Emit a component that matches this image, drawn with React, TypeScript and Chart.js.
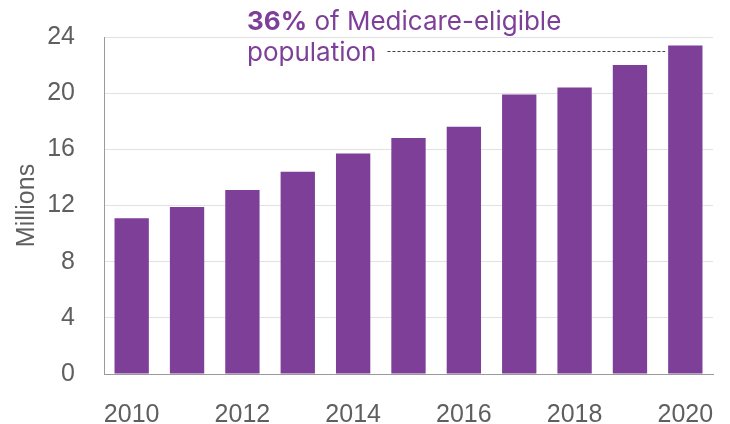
import React, { useEffect, useRef } from "react";
import { Chart, registerables } from "chart.js";

Chart.register(...registerables);

const years = ["2010", "2011", "2012", "2013", "2014", "2015", "2016", "2017", "2018", "2019", "2020"];
const millions = [11.1, 11.9, 13.1, 14.4, 15.7, 16.8, 17.6, 19.9, 20.4, 22.0, 23.4];
const yTicks = [0, 4, 8, 12, 16, 20, 24];
const annotationBold = "36%";
const annotationLine1 = " of Medicare-eligible";
const annotationLine2 = "population";

const PURPLE = "#7D3F98";
const FONT = "'Liberation Sans', Arial, sans-serif";
const AFONT = "Inter, 'Liberation Sans', sans-serif";

const annotationPlugin = {
  id: "annot",
  afterDraw(chart: any) {
    const ctx = chart.ctx;
    const y = chart.scales.y;
    const lastIdx = millions.length - 1;
    const barTop = y.getPixelForValue(millions[lastIdx]);
    const meta = chart.getDatasetMeta(0);
    const bar = meta.data[lastIdx];
    const barLeft = bar.x - bar.width / 2;
    const textX = 247;
    const line1Y = barTop - 15;
    const line2Y = barTop + 16;
    ctx.save();
    ctx.fillStyle = PURPLE;
    ctx.textBaseline = "alphabetic";
    ctx.textAlign = "left";
    ctx.font = `bold 26px ${AFONT}`;
    ctx.fillText(annotationBold, textX, line1Y);
    const bw = ctx.measureText(annotationBold).width;
    ctx.font = `26px ${AFONT}`;
    ctx.fillText(annotationLine1, textX + bw, line1Y);
    ctx.fillText(annotationLine2, textX, line2Y);
    const w2 = ctx.measureText(annotationLine2).width;
    ctx.strokeStyle = "#444";
    ctx.lineWidth = 1;
    ctx.setLineDash([3, 2]);
    ctx.beginPath();
    const ly = Math.round(barTop + 6) + 0.5;
    ctx.moveTo(textX + w2 + 11, ly);
    ctx.lineTo(barLeft - 3, ly);
    ctx.stroke();
    ctx.restore();
  },
};

export default function App() {
  const ref = useRef<HTMLCanvasElement>(null);
  useEffect(() => {
    if (!ref.current) return;
    const chart = new Chart(ref.current, {
      type: "bar",
      data: {
        labels: years,
        datasets: [
          {
            data: millions,
            backgroundColor: PURPLE,
            borderWidth: 0,
            barPercentage: 0.62,
            categoryPercentage: 1,
          },
        ],
      },
      options: {
        animation: false,
        responsive: false,
        maintainAspectRatio: false,
        layout: { padding: { top: 37, right: 17, left: 12, bottom: 0 } },
        plugins: { legend: { display: false }, tooltip: { enabled: false } },
        scales: {
          x: {
            grid: { display: false, drawTicks: false },
            border: { display: true, color: "#9a9a9a", width: 1 },
            afterFit: (s: any) => {
              s.height = 50;
              s.paddingLeft = 0;
              s.paddingRight = 0;
            },
            ticks: {
              autoSkip: false,
              maxRotation: 0,
              padding: 26,
              color: "#5f5f5f",
              font: { family: FONT, size: 25 },
              callback: (_v: any, i: number) => (i % 2 === 0 ? years[i] : ""),
            },
          },
          y: {
            min: 0,
            max: 24,
            afterBuildTicks: (s: any) => {
              s.ticks = yTicks.map((v) => ({ value: v }));
            },
            afterFit: (s: any) => {
              s.width = 92;
              s.paddingTop = 0;
              s.paddingBottom = 0;
            },
            grid: { color: "#e2e2e2", drawTicks: false },
            border: { display: true, color: "#9a9a9a", width: 1 },
            ticks: {
              padding: 29,
              color: "#5f5f5f",
              font: { family: FONT, size: 25 },
            },
            title: {
              display: true,
              text: "Millions",
              color: "#5f5f5f",
              font: { family: FONT, size: 25 },
              padding: 0,
            },
          },
        },
      },
      plugins: [annotationPlugin],
    });
    return () => chart.destroy();
  }, []);
  return (
    <div style={{ position: "fixed", left: 0, top: 0, width: 730, height: 424, background: "#fff" }}>
      <canvas ref={ref} width={730} height={424} style={{ width: 730, height: 424 }} />
    </div>
  );
}
